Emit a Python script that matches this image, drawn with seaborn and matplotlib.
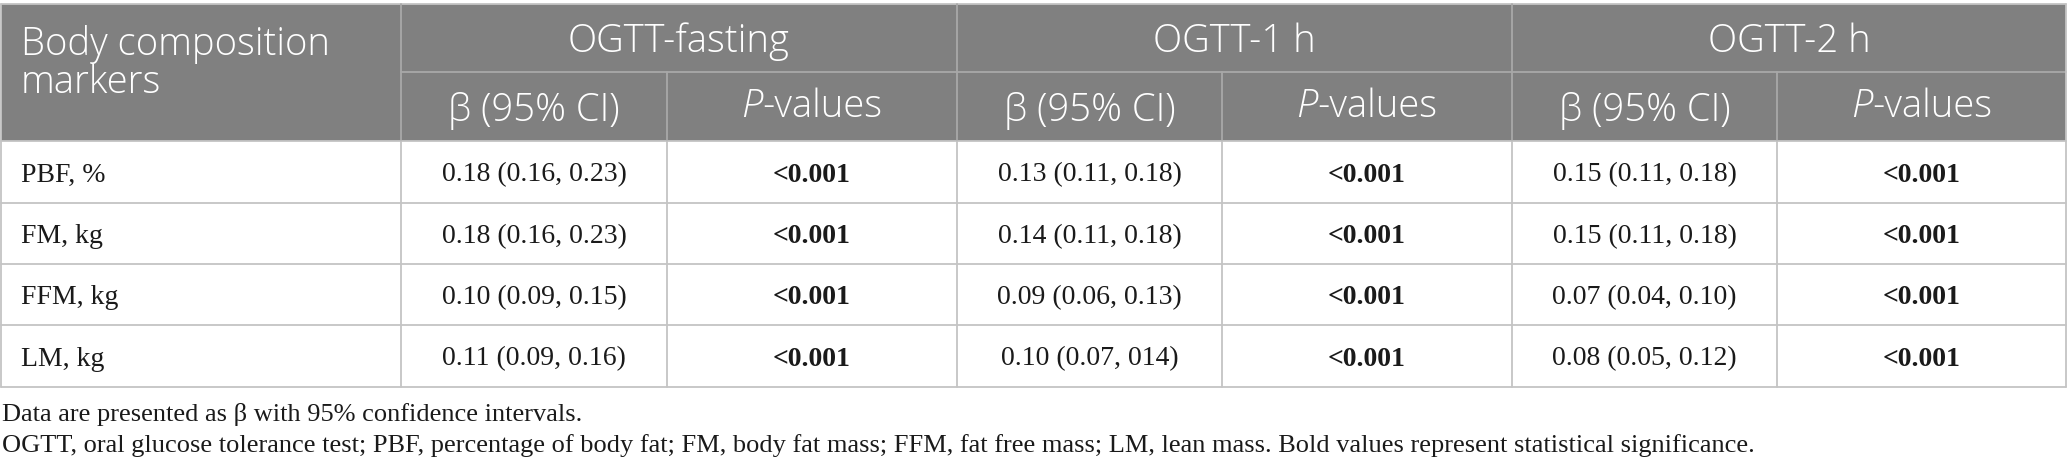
import matplotlib
matplotlib.use("Agg")
import matplotlib.pyplot as plt
from matplotlib.offsetbox import TextArea, HPacker, AnnotationBbox
import seaborn as sns

# table content
groups = ["OGTT-fasting", "OGTT-1 h", "OGTT-2 h"]
markers = ["PBF, %", "FM, kg", "FFM, kg", "LM, kg"]
beta_fasting = ["0.18 (0.16, 0.23)", "0.18 (0.16, 0.23)", "0.10 (0.09, 0.15)", "0.11 (0.09, 0.16)"]
p_fasting = ["<0.001", "<0.001", "<0.001", "<0.001"]
beta_1h = ["0.13 (0.11, 0.18)", "0.14 (0.11, 0.18)", "0.09 (0.06, 0.13)", "0.10 (0.07, 014)"]
p_1h = ["<0.001", "<0.001", "<0.001", "<0.001"]
beta_2h = ["0.15 (0.11, 0.18)", "0.15 (0.11, 0.18)", "0.07 (0.04, 0.10)", "0.08 (0.05, 0.12)"]
p_2h = ["<0.001", "<0.001", "<0.001", "<0.001"]
footnotes = [
    "Data are presented as \u03b2 with 95% confidence intervals.",
    "OGTT, oral glucose tolerance test; PBF, percentage of body fat; FM, body fat mass; "
    "FFM, fat free mass; LM, lean mass. Bold values represent statistical significance.",
]

# layout in pixels
W, H = 2068, 476
col_edges = [1, 401, 667, 957, 1222, 1512, 1777, 2066]
row_edges = [4, 72, 141, 203, 264, 325, 387]
head_bg = "#808080"
head_line = "#a8a8a8"
body_line = "#c4c4c4"
ink = "#1a1a1a"
sans = ["Open Sans", "DejaVu Sans"]
serif = ["Liberation Serif", "DejaVu Serif"]

sns.set_style("white")
fig = plt.figure(figsize=(W / 100, H / 100), dpi=100)
ax = fig.add_axes([0, 0, 1, 1])
ax.set_xlim(0, W)
ax.set_ylim(H, 0)
ax.set_axis_off()

# header background
ax.fill_between([col_edges[0], col_edges[-1]], row_edges[0], row_edges[2],
                color=head_bg, lw=0, zorder=1)

# horizontal lines
ax.plot([col_edges[0], col_edges[-1]], [row_edges[0]] * 2, color=body_line, lw=1.3, zorder=3)
ax.plot([col_edges[1], col_edges[-1]], [row_edges[1]] * 2, color=head_line, lw=1.3, zorder=3)
for y in row_edges[2:]:
    ax.plot([col_edges[0], col_edges[-1]], [y, y], color=body_line, lw=1.3, zorder=3)

# vertical lines
for x in [col_edges[0], col_edges[-1]]:
    ax.plot([x, x], [row_edges[0], row_edges[-1]], color=body_line, lw=1.3, zorder=3)
for x in [col_edges[1], col_edges[3], col_edges[5]]:
    ax.plot([x, x], [row_edges[0], row_edges[2]], color=head_line, lw=1.3, zorder=3)
    ax.plot([x, x], [row_edges[2], row_edges[-1]], color=body_line, lw=1.3, zorder=3)
for x in [col_edges[2], col_edges[4], col_edges[6]]:
    ax.plot([x, x], [row_edges[1], row_edges[2]], color=head_line, lw=1.3, zorder=3)
    ax.plot([x, x], [row_edges[2], row_edges[-1]], color=body_line, lw=1.3, zorder=3)

# header text
hsize = 27.5
hstyle = dict(color="white", fontsize=hsize, family=sans, fontweight="light", zorder=4)
ax.text(21, 55, "Body composition", ha="left", va="baseline", **hstyle)
ax.text(21, 93, "markers", ha="left", va="baseline", **hstyle)
for i, g in enumerate(groups):
    x0, x1 = col_edges[1 + 2 * i], col_edges[3 + 2 * i]
    ax.text((x0 + x1) / 2, 52, g, ha="center", va="baseline", **hstyle)
    xb = (col_edges[1 + 2 * i] + col_edges[2 + 2 * i]) / 2
    ax.text(xb, 121, "\u03b2 (95% CI)", ha="center", va="baseline", **hstyle)
    xp = (col_edges[2 + 2 * i] + col_edges[3 + 2 * i]) / 2
    pk = HPacker(children=[
        TextArea("P", textprops=dict(color="white", fontsize=hsize, family=sans,
                                     fontweight="light", style="italic")),
        TextArea("-values", textprops=dict(color="white", fontsize=hsize, family=sans,
                                           fontweight="light")),
    ], pad=0, sep=0, align="baseline")
    ab = AnnotationBbox(pk, (xp, 107), frameon=False, box_alignment=(0.5, 0.5),
                        pad=0, zorder=4)
    ax.add_artist(ab)

# body text
bsize = 20
columns = [beta_fasting, p_fasting, beta_1h, p_1h, beta_2h, p_2h]
for r, m in enumerate(markers):
    yb = (row_edges[2 + r] + row_edges[3 + r]) / 2 + 9.5
    ax.text(21, yb, m, ha="left", va="baseline", color=ink, fontsize=bsize,
            family=serif, zorder=4)
    for c, vals in enumerate(columns):
        xc = (col_edges[1 + c] + col_edges[2 + c]) / 2
        bold = c % 2 == 1
        ax.text(xc, yb, vals[r], ha="center", va="baseline", color=ink, fontsize=bsize,
                family=serif, fontweight="bold" if bold else "normal", zorder=4)

# footnotes
for y, note in zip([421, 452], footnotes):
    ax.text(2, y, note, ha="left", va="baseline", color=ink, fontsize=19,
            family=serif, zorder=4)

fig.savefig("out.png", dpi=100)
